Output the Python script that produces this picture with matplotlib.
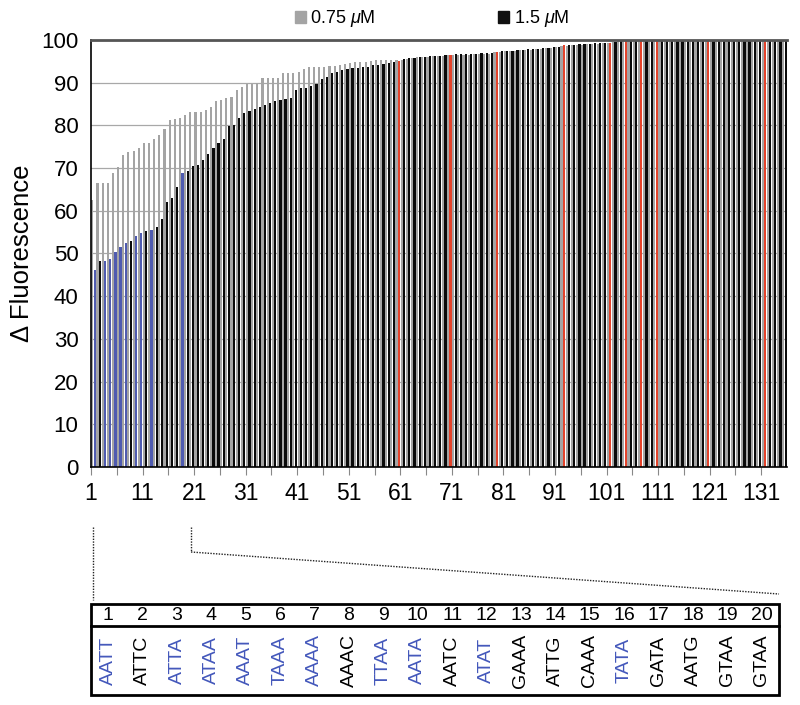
import numpy as np
import matplotlib
matplotlib.use('Agg')
import matplotlib.pyplot as plt
from matplotlib.patches import Patch, Rectangle

plt.rcParams['font.family'] = ['Liberation Sans', 'DejaVu Sans']
plt.rcParams['mathtext.fontset'] = 'custom'
plt.rcParams['mathtext.it'] = 'Liberation Sans:italic'

# delta fluorescence, ranked, 135 sequences
low_dose = [62.5, 66.4, 66.4, 66.4, 68.8, 70.2, 73.0, 73.8, 73.9, 74.6, 75.8, 75.8, 76.7,
            77.8, 79.2, 81.3, 81.5, 81.7, 82.4, 83.1, 83.1, 83.2, 83.6, 84.4, 85.8, 85.9,
            86.3, 86.7, 88.3, 89.1, 89.7, 89.8, 90.0, 91.0, 91.0, 91.0, 91.2, 92.2, 92.2,
            92.2, 92.6, 93.1, 93.7, 93.7, 93.7, 93.7, 93.9, 93.9, 94.1, 94.3, 94.7, 94.8,
            94.9, 94.9, 95.0, 95.2, 95.2, 95.3, 95.3, 95.2,
            95.4, 95.6, 95.8, 96.0, 96.0, 96.1, 96.2, 96.2, 96.3, 96.5,
            96.6, 96.6, 96.6, 96.6, 96.7, 96.8, 96.8, 96.8, 97.1, 97.3,
            97.4, 97.4, 97.5, 97.6, 97.7, 97.7, 97.8, 98.0, 98.1, 98.2, 98.3,
            98.6, 98.7, 98.8, 98.9, 98.9, 99.0, 99.1, 99.1, 99.2, 99.3, 99.5] + [100.0] * 33
high_dose = [46.1, 48.3, 48.2, 48.8, 50.3, 51.6, 52.5, 53.0, 54.1, 54.7, 55.3, 55.4, 56.1,
             58.0, 62.1, 63.1, 65.5, 68.8, 69.3, 70.6, 70.8, 71.9, 73.4, 74.6, 75.8, 76.8,
             79.9, 80.1, 81.7, 82.8, 83.4, 83.9, 84.4, 84.8, 85.2, 85.6, 85.9, 86.1, 86.3,
             88.4, 88.7, 88.8, 89.2, 89.8, 90.8, 91.4, 92.2, 92.4, 93.0, 93.2, 93.4, 93.5,
             93.6, 93.6, 94.1, 94.2, 94.4, 94.5, 94.9, 95.1,
             95.6, 95.7, 95.9, 96.1, 96.1, 96.2, 96.3, 96.3, 96.4, 96.6,
             96.7, 96.7, 96.7, 96.7, 96.8, 96.9, 96.9, 96.9, 97.3, 97.4,
             97.5, 97.5, 97.6, 97.7, 97.8, 97.8, 97.9, 98.1, 98.2, 98.3, 98.4,
             98.8, 98.8, 98.9, 99.0, 99.0, 99.1, 99.2, 99.2, 99.3, 99.4, 99.6] + [100.0] * 33
blue_ranks = [1, 3, 4, 5, 6, 7, 9, 10, 12, 18]
red_ranks = [60, 70, 79, 92, 101, 104, 107, 110, 120, 131]

# top 20 sequences shown in the table
seq_labels = ['AATT', 'ATTC', 'ATTA', 'ATAA', 'AAAT', 'TAAA', 'AAAA', 'AAAC', 'TTAA', 'AATA',
              'AATC', 'ATAT', 'GAAA', 'ATTG', 'CAAA', 'TATA', 'GATA', 'AATG', 'GTAA', 'GTAA']
seq_blue = [1, 3, 4, 5, 6, 7, 9, 10, 12, 16]

GREY = '#a4a4a4'
BLUE = '#4f5bb0'
RED = '#e4432b'
TXT_BLUE = '#4458bb'

n = len(high_dose)
ranks = np.arange(1, n + 1)
bar_cols = []
for r in ranks:
    if r in blue_ranks:
        bar_cols.append(BLUE)
    elif r in red_ranks:
        bar_cols.append(RED)
    else:
        bar_cols.append('#0a0a0a')

fig = plt.figure(figsize=(8, 7.05), dpi=100)
ax = fig.add_axes([91 / 800, 1 - 467 / 705, 696 / 800, 427 / 705])

ax.bar(ranks + 0.26, low_dose, width=0.41, color=GREY, linewidth=0)
ax.bar(ranks + 0.74, high_dose, width=0.43, color=bar_cols, linewidth=0)

ax.set_xlim(1, n + 1)
ax.set_ylim(0, 100)
ax.set_yticks(np.arange(0, 101, 10))
ax.yaxis.grid(True, color='#a8a8a8', linewidth=0.9)
ax.set_axisbelow(True)
ax.tick_params(axis='y', length=0, labelsize=16, pad=9)

xt = np.arange(1, n + 1, 5)
ax.set_xticks(xt)
ax.set_xticklabels([str(t) if (t - 1) % 10 == 0 else '' for t in xt])
ax.tick_params(axis='x', length=6, width=0.8, color='#888888', labelsize=16.5, pad=5)

ax.spines['top'].set_color('#555555')
ax.spines['top'].set_linewidth(2)
ax.spines['right'].set_visible(False)
ax.spines['left'].set_linewidth(1.2)
ax.spines['bottom'].set_linewidth(1.2)

ax.set_ylabel('Δ Fluorescence', fontsize=18.5, labelpad=5)

handles = [Patch(color=GREY, label=r'0.75 $\mathit{\mu}$M'),
           Patch(color='#111111', label=r'1.5 $\mathit{\mu}$M')]
ax.legend(handles=handles, loc='lower center', bbox_to_anchor=(0.49, 1.0), ncol=2,
          frameon=False, fontsize=13, handlelength=0.6, handleheight=0.6,
          handletextpad=0.25, columnspacing=6.8, borderaxespad=0.2)

# overlay in pixel coordinates for the zoom lines and the table
ov = fig.add_axes([0, 0, 1, 1])
ov.set_xlim(0, 800)
ov.set_ylim(705, 0)
ov.axis('off')

dot = dict(color='#222222', linewidth=1.0, linestyle=(0, (1, 1)))
ov.plot([93, 93], [527, 600], **dot)
ov.plot([191, 191], [527, 552], **dot)
ov.plot([191, 779], [552, 594], **dot)

tx0, tx1 = 91, 779
ty0, ty1, ymid = 604, 695, 626
ov.add_patch(Rectangle((tx0, ty0), tx1 - tx0, ty1 - ty0, fill=False, edgecolor='black', linewidth=2))
ov.plot([tx0, tx1], [ymid, ymid], color='black', linewidth=2)
cw = (tx1 - tx0) / len(seq_labels)
for k, s in enumerate(seq_labels):
    cx = tx0 + (k + 0.5) * cw
    ov.text(cx, (ty0 + ymid) / 2 + 1, str(k + 1), ha='center', va='center', fontsize=14)
    c = TXT_BLUE if (k + 1) in seq_blue else 'black'
    ov.text(cx, (ymid + ty1) / 2, s, ha='center', va='center', rotation=90,
            fontsize=14, color=c)

fig.savefig('out.png', dpi=100)
